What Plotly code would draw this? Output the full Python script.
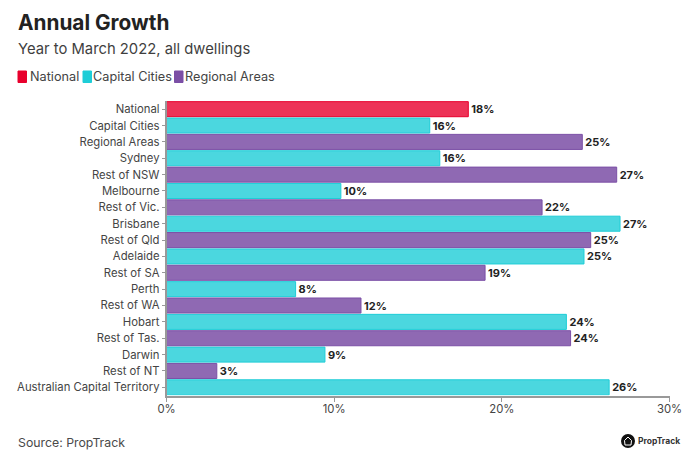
import plotly.graph_objects as go

FONT = "Inter"
categories = ["National", "Capital Cities", "Regional Areas", "Sydney", "Rest of NSW", "Melbourne",
              "Rest of Vic.", "Brisbane", "Rest of Qld", "Adelaide", "Rest of SA", "Perth",
              "Rest of WA", "Hobart", "Rest of Tas.", "Darwin", "Rest of NT", "Australian Capital Territory"]
national_names = ["National"]
national_vals = [18.0]
capital_names = ["Capital Cities", "Sydney", "Melbourne", "Brisbane", "Adelaide", "Perth", "Hobart", "Darwin",
                 "Australian Capital Territory"]
capital_vals = [15.7, 16.3, 10.4, 27.05, 24.9, 7.7, 23.85, 9.45, 26.4]
regional_names = ["Regional Areas", "Rest of NSW", "Rest of Vic.", "Rest of Qld", "Rest of SA", "Rest of WA",
                  "Rest of Tas.", "Rest of NT"]
regional_vals = [24.8, 26.85, 22.4, 25.3, 19.0, 11.6, 24.1, 3.0]
tick_vals = [0, 10, 20, 30]
tick_text = ["0%", "10%", "20%", "30%"]

W, H = 700, 471
def px(v): return v / W
def py(v): return 1 - v / H

series = [("National", national_names, national_vals, "rgba(232,0,45,0.8)", "#e8002d"),
          ("Capital Cities", capital_names, capital_vals, "rgba(30,205,215,0.8)", "#1ecdd7"),
          ("Regional Areas", regional_names, regional_vals, "rgba(123,79,166,0.85)", "#7b4fa6")]

fig = go.Figure()
for name, ys, xs, fill, stroke in series:
    fig.add_trace(go.Bar(
        name=name, y=ys, x=xs, orientation="h", marker=dict(color=fill, line=dict(color=stroke, width=1)),
        text=[f"<b>{v:.0f}%</b>" for v in xs], textposition="outside", cliponaxis=False,
        textfont=dict(family=FONT, size=11, color="#222222"), showlegend=False, hoverinfo="skip"))

shapes = []
annos = []
def text(x, y, s, size, color="#444444", anchor="left"):
    annos.append(dict(x=px(x), y=py(y), xref="paper", yref="paper", text=s, showarrow=False, xanchor=anchor,
                      yanchor="middle", xshift=0, font=dict(family=FONT, size=size, color=color),
                      borderpad=0, borderwidth=0))

text(18, 23, "<b>Annual Growth</b>", 20.8, "#222222")
text(18, 49, "Year to March 2022, all dwellings", 14.8, "#3f3f3f")
text(30, 76.5, "National", 12.7)
text(93, 76.5, "Capital Cities", 12.7)
text(185, 76.5, "Regional Areas", 12.7)
text(18, 442, "Source: PropTrack", 12.3, "#4a4a4a")
text(638, 441, "<b>PropTrack</b>", 8.5, "#333333")

for x0, color in [(18, "#e8002d"), (83, "#1ecdd7"), (174.5, "#7b4fa6")]:
    shapes.append(dict(type="rect", xref="paper", yref="paper", x0=px(x0), x1=px(x0 + 8.5), y0=py(71), y1=py(82.5),
                       fillcolor=color, line=dict(color=color, width=1)))
shapes.append(dict(type="circle", xref="paper", yref="paper", x0=px(621), x1=px(635), y0=py(434), y1=py(448),
                   fillcolor="#111111", line=dict(width=0)))
shapes.append(dict(type="path", xref="paper", yref="paper",
                   path=f"M {px(624.5)} {py(440.5)} L {px(628)} {py(437)} L {px(631.5)} {py(440.5)} "
                        f"L {px(631)} {py(445)} L {px(625)} {py(445)} Z",
                   fillcolor="#111111", line=dict(color="#ffffff", width=1)))

fig.update_layout(
    width=W, height=H, margin=dict(l=0, r=0, t=0, b=0, autoexpand=False), autosize=False,
    paper_bgcolor="white", plot_bgcolor="white",
    barmode="overlay", bargap=0.08, showlegend=False, shapes=shapes, annotations=annos,
    font=dict(family=FONT, size=11.3, color="#444444"),
    xaxis=dict(domain=[px(166.5), px(669.5)], range=[0, 30], tickvals=tick_vals, ticktext=tick_text, showgrid=False,
               zeroline=False, showline=True, linecolor="#999999", linewidth=2, ticks="outside", ticklen=4,
               ticklabelstandoff=-2,
               tickcolor="#999999", tickwidth=1, tickfont=dict(family=FONT, size=11.3, color="#444444")),
    yaxis=dict(domain=[py(395.5), py(101)], categoryorder="array", categoryarray=categories, autorange="reversed",
               showgrid=False, zeroline=False, showline=True, linecolor="#999999", linewidth=1.5, ticks="outside",
               ticklen=3, tickcolor="#999999", tickwidth=1, tickfont=dict(family=FONT, size=11.3, color="#444444")),
)
fig.write_html("out.html", config=dict(displayModeBar=False),
               post_script="document.body.style.margin='0';")
